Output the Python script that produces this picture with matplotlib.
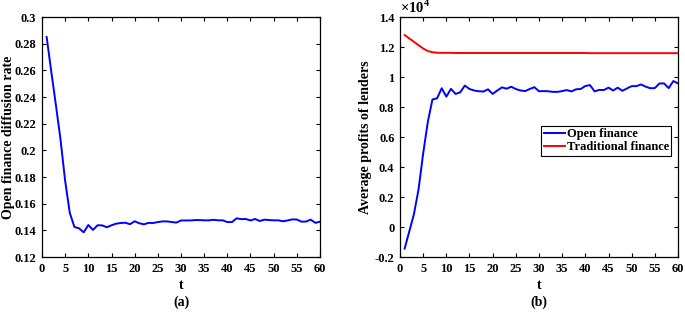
import matplotlib

matplotlib.use("Agg")
import matplotlib.pyplot as plt

# Diffusion rate of open finance, t = 1..60
t = list(range(1, 61))
diffusion_rate = [
    0.285, 0.259, 0.234, 0.208, 0.177, 0.153, 0.1425, 0.1415, 0.1385, 0.1440,
    0.1403, 0.1438, 0.1437, 0.1423, 0.1438, 0.1450, 0.1455, 0.1457, 0.1446, 0.1468,
    0.1453, 0.1445, 0.1456, 0.1455, 0.1462, 0.1467, 0.1467, 0.1462, 0.1458, 0.1474,
    0.1474, 0.1474, 0.1477, 0.1477, 0.1475, 0.1475, 0.1479, 0.1475, 0.1475, 0.1462,
    0.1462, 0.1490, 0.1484, 0.1485, 0.1474, 0.1485, 0.1470, 0.1480, 0.1477, 0.1475,
    0.1475, 0.1468, 0.1474, 0.1482, 0.1481, 0.1465, 0.1466, 0.1480, 0.1456, 0.1465,
]

# Average profits of lenders (x 10^4)
open_profit = [
    -0.144, -0.030, 0.085, 0.250, 0.490, 0.700, 0.850, 0.858, 0.925, 0.869,
    0.921, 0.887, 0.898, 0.943, 0.920, 0.910, 0.905, 0.903, 0.918, 0.887,
    0.910, 0.931, 0.922, 0.935, 0.920, 0.910, 0.906, 0.920, 0.932, 0.905,
    0.906, 0.905, 0.901, 0.901, 0.906, 0.913, 0.904, 0.918, 0.920, 0.940,
    0.946, 0.904, 0.914, 0.913, 0.929, 0.910, 0.929, 0.908, 0.924, 0.939,
    0.939, 0.950, 0.936, 0.925, 0.926, 0.957, 0.957, 0.926, 0.973, 0.957,
]
traditional_profit = [
    1.280, 1.257, 1.235, 1.212, 1.190, 1.173, 1.165, 1.162, 1.161, 1.161,
    1.161, 1.160, 1.160, 1.160, 1.160, 1.160, 1.160, 1.160, 1.160, 1.160,
    1.160, 1.160, 1.160, 1.160, 1.160, 1.160, 1.160, 1.160, 1.160, 1.160,
    1.160, 1.160, 1.160, 1.160, 1.160, 1.160, 1.160, 1.160, 1.160, 1.160,
    1.159, 1.159, 1.159, 1.159, 1.159, 1.159, 1.159, 1.159, 1.159, 1.159,
    1.159, 1.159, 1.159, 1.159, 1.159, 1.159, 1.159, 1.159, 1.159, 1.159,
]

FONT = "Liberation Serif"
plt.rcParams.update({
    "font.family": FONT,
    "font.weight": "bold",
    "font.size": 9,
    "mathtext.fontset": "custom",
    "mathtext.rm": FONT,
    "mathtext.bf": FONT + ":bold",
    "axes.linewidth": 0.9,
    "xtick.direction": "in",
    "ytick.direction": "in",
    "xtick.top": True,
    "ytick.right": True,
    "xtick.major.size": 3,
    "ytick.major.size": 3,
})

W, H = 685, 314
fig = plt.figure(figsize=(W / 100, H / 100), dpi=100)


def box(x0, x1, y0, y1):
    return [x0 / W, 1 - y1 / H, (x1 - x0) / W, (y1 - y0) / H]


xticks = list(range(0, 61, 5))

# (a)
ax1 = fig.add_axes(box(42, 320, 17, 257))
ax1.plot(t, diffusion_rate, color="#0000ff", lw=1.4)
ax1.set_xlim(0, 60)
ax1.set_ylim(0.12, 0.30)
ax1.set_xticks(xticks)
ax1.set_yticks([0.12, 0.14, 0.16, 0.18, 0.20, 0.22, 0.24, 0.26, 0.28, 0.30])
ax1.set_yticklabels(["0.12", "0.14", "0.16", "0.18", "0.2", "0.22", "0.24", "0.26", "0.28", "0.3"])
ax1.set_xlabel("t", fontsize=10, fontweight="bold", labelpad=3)
ax1.set_ylabel("Open finance diffusion rate", fontsize=10, fontweight="bold")
# label anchor is its right edge once rotated
ax1.yaxis.set_label_coords((15 - 42) / 278, 0.5)
ax1.tick_params(labelsize=9, pad=4)

# (b)
ax2 = fig.add_axes(box(400, 678, 17, 257))
ax2.plot(t, open_profit, color="#0000ff", lw=1.4, label="Open finance")
ax2.plot(t, traditional_profit, color="#ff0000", lw=1.4, label="Traditional finance")
ax2.set_xlim(0, 60)
ax2.set_ylim(-0.2, 1.4)
ax2.set_xticks(xticks)
ax2.set_yticks([-0.2, 0, 0.2, 0.4, 0.6, 0.8, 1.0, 1.2, 1.4])
ax2.set_yticklabels(["-0.2", "0", "0.2", "0.4", "0.6", "0.8", "1", "1.2", "1.4"])
ax2.set_xlabel("t", fontsize=10, fontweight="bold", labelpad=3)
ax2.set_ylabel("Average profits of lenders", fontsize=10, fontweight="bold")
ax2.yaxis.set_label_coords((372 - 400) / 278, 0.5)
ax2.tick_params(labelsize=9, pad=4)
ax2.text(0.0, 1.003, r"$\times$10$^{4}$", transform=ax2.transAxes, fontsize=10.5,
         ha="left", va="bottom")
leg = ax2.legend(loc="upper left", bbox_to_anchor=((541 - 400) / 278, 1 - (126 - 17) / 240),
                 fontsize=9, frameon=True, fancybox=False, edgecolor="black",
                 handlelength=1.7, handletextpad=0.15, borderpad=0.2, labelspacing=0.05,
                 borderaxespad=0, framealpha=1)
leg.get_frame().set_linewidth(0.8)

fig.text(181 / W, 1 - 302 / H, "(a)", ha="center", va="center", fontsize=10, fontweight="bold")
fig.text(539 / W, 1 - 302 / H, "(b)", ha="center", va="center", fontsize=10, fontweight="bold")

fig.savefig("out.png", dpi=100, facecolor="white")
